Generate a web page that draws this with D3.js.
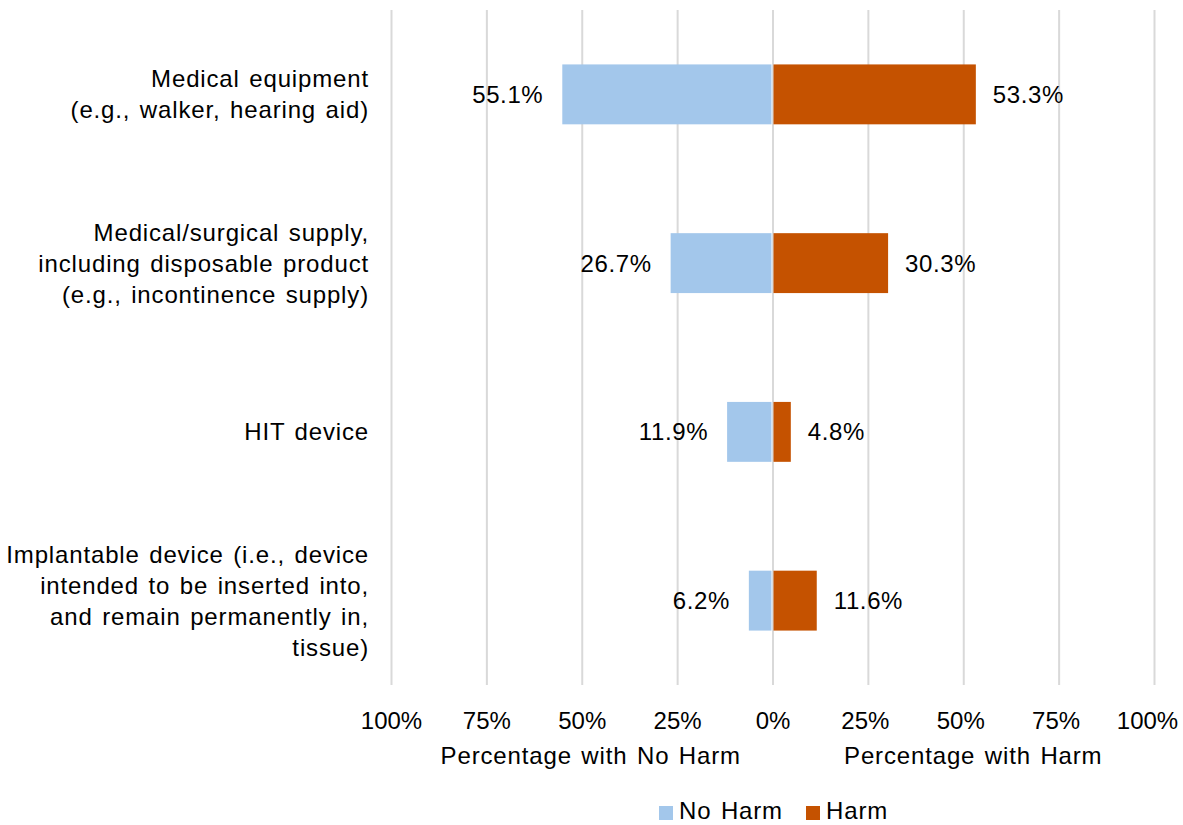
<!DOCTYPE html>
<html>
<head>
<meta charset="utf-8">
<script src="https://cdn.jsdelivr.net/npm/d3@7"></script>
<style>
  body { margin: 0; background: #fff; }
  text { font-family: "Liberation Sans", Arial, sans-serif; fill: #000; }
  .cat, .title, .legend-label { letter-spacing: 0.85px; word-spacing: 2px; }
  .value { letter-spacing: 0.6px; }
</style>
</head>
<body>
<div id="chart"></div>
<script>
// chart values
const categories = [
  ['Medical equipment', '(e.g., walker, hearing aid)'],
  ['Medical/surgical supply,', 'including disposable product', '(e.g., incontinence supply)'],
  ['HIT device'],
  ['Implantable device (i.e., device', 'intended to be inserted into,', 'and remain permanently in,', 'tissue)']
];
const noHarm = [55.1, 26.7, 11.9, 6.2];
const harm = [53.3, 30.3, 4.8, 11.6];
const tickValues = [-100, -75, -50, -25, 0, 25, 50, 75, 100];
const axisTitles = ['Percentage with No Harm', 'Percentage with Harm'];
const seriesNames = ['No Harm', 'Harm'];

const colors = { noHarm: '#A3C7EB', harm: '#C55200' };

const width = 1183;
const height = 825;
const plot = { left: 391, right: 1154, top: 10, bottom: 685 };

const svg = d3.select('#chart').append('svg')
  .attr('width', width)
  .attr('height', height);

const x = d3.scaleLinear()
  .domain([-100, 100])
  .range([plot.left, plot.right]);

const y = d3.scaleBand()
  .domain(d3.range(categories.length))
  .range([plot.top, plot.bottom])
  .paddingInner(0.645)
  .paddingOuter(0.3225);

// gridlines
const grid = svg.append('g')
  .attr('transform', 'translate(0,' + plot.bottom + ')')
  .call(d3.axisBottom(x).tickValues(tickValues).tickSize(-(plot.bottom - plot.top)).tickFormat(''));
grid.select('.domain').remove();
grid.selectAll('.tick line').attr('stroke', '#D9D9D9').attr('stroke-width', 2);

// tick labels
const labels = svg.append('g')
  .attr('transform', 'translate(0,' + (plot.bottom + 24) + ')')
  .call(d3.axisBottom(x).tickValues(tickValues).tickSize(0).tickFormat(d => Math.abs(d) + '%'));
labels.select('.domain').remove();
labels.selectAll('text')
  .attr('font-size', 24)
  .attr('font-family', '"Liberation Sans", Arial, sans-serif')
  .attr('fill', '#000')
  .attr('dx', d => d === 100 ? -7 : (d > 0 ? -3 : 0));

// bars
const rows = svg.append('g').selectAll('g')
  .data(d3.range(categories.length))
  .enter()
  .append('g');

rows.append('rect')
  .attr('x', i => x(-noHarm[i]))
  .attr('y', i => y(i))
  .attr('width', i => x(0) - 1 - x(-noHarm[i]))
  .attr('height', y.bandwidth())
  .attr('fill', colors.noHarm);

rows.append('rect')
  .attr('x', x(0) + 1)
  .attr('y', i => y(i))
  .attr('width', i => x(harm[i]) - x(0) - 1)
  .attr('height', y.bandwidth())
  .attr('fill', colors.harm);

// value labels
rows.append('text')
  .attr('class', 'value')
  .attr('x', i => x(-noHarm[i]) - 19)
  .attr('y', i => y(i) + y.bandwidth() / 2)
  .attr('dy', '0.35em')
  .attr('text-anchor', 'end')
  .attr('font-size', 24)
  .text(i => noHarm[i].toFixed(1) + '%');

rows.append('text')
  .attr('class', 'value')
  .attr('x', i => x(harm[i]) + 17)
  .attr('y', i => y(i) + y.bandwidth() / 2)
  .attr('dy', '0.35em')
  .attr('text-anchor', 'start')
  .attr('font-size', 24)
  .text(i => harm[i].toFixed(1) + '%');

// category labels
const lineHeight = 31;
rows.append('text')
  .attr('class', 'cat')
  .attr('text-anchor', 'end')
  .attr('font-size', 24)
  .each(function(i) {
    const lines = categories[i];
    const cy = y(i) + y.bandwidth() / 2;
    const startY = cy - (lines.length - 1) * lineHeight / 2;
    d3.select(this).selectAll('tspan')
      .data(lines)
      .enter()
      .append('tspan')
      .attr('x', 369)
      .attr('y', (d, k) => startY + k * lineHeight)
      .attr('dy', '0.35em')
      .text(d => d);
  });

// axis titles
svg.append('text')
  .attr('class', 'title')
  .attr('x', (x(-100) + x(0)) / 2 + 9)
  .attr('y', 764)
  .attr('text-anchor', 'middle')
  .attr('font-size', 24)
  .text(axisTitles[0]);

svg.append('text')
  .attr('class', 'title')
  .attr('x', (x(0) + x(100)) / 2 + 10)
  .attr('y', 764)
  .attr('text-anchor', 'middle')
  .attr('font-size', 24)
  .text(axisTitles[1]);

// legend
const legend = svg.append('g');
const legendItems = [
  { name: seriesNames[0], color: colors.noHarm, x: 659 },
  { name: seriesNames[1], color: colors.harm, x: 806 }
];
legendItems.forEach(item => {
  legend.append('rect')
    .attr('x', item.x)
    .attr('y', 806)
    .attr('width', 14)
    .attr('height', 14)
    .attr('fill', item.color);
  legend.append('text')
    .attr('class', 'legend-label')
    .attr('x', item.x + 20)
    .attr('y', 819)
    .attr('font-size', 24)
    .text(item.name);
});
</script>
</body>
</html>
